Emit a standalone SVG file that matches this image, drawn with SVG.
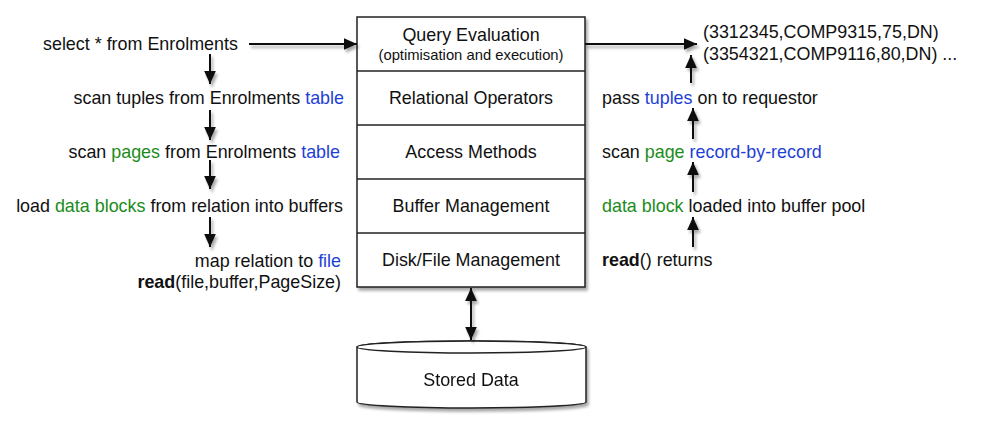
<svg xmlns="http://www.w3.org/2000/svg" width="981" height="426" viewBox="0 0 981 426">
<style>
text{font-family:"Liberation Sans",Arial,sans-serif;font-size:17.9px;fill:#111}
.c{text-anchor:middle}
.e{text-anchor:end}
.g{fill:#1b8c1b}
.b{fill:#1e3fd6}
.bold{font-weight:bold}
.box{fill:#fff;stroke:#222;stroke-width:1.5}
.conn{stroke:#111;stroke-width:2;fill:none}
</style>
<defs>
<filter id="sh" x="-10%" y="-10%" width="130%" height="130%">
<feGaussianBlur in="SourceAlpha" stdDeviation="1.8"/>
<feOffset dx="1.5" dy="2.5" result="o"/>
<feComponentTransfer><feFuncA type="linear" slope="0.35"/></feComponentTransfer>
<feMerge><feMergeNode/><feMergeNode in="SourceGraphic"/></feMerge>
</filter>
<marker id="ahb" viewBox="0 0 10 10" refX="10" refY="5" markerWidth="13" markerHeight="13" markerUnits="userSpaceOnUse" orient="auto-start-reverse">
<path d="M0,0.5 L10,5 L0,9.5 z" fill="#111"/>
</marker>
</defs>

<g id="stack" filter="url(#sh)">
<rect class="box" x="357" y="17" width="228" height="270"/>
</g>
<g id="query-evaluation">
<line x1="357" y1="71" x2="585" y2="71" stroke="#222" stroke-width="1.5"/>
<text class="c" x="471" y="41">Query Evaluation</text>
<text class="c" x="471" y="60" style="font-size:14.8px">(optimisation and execution)</text>
</g>
<g id="relational-operators">
<line x1="357" y1="125" x2="585" y2="125" stroke="#222" stroke-width="1.5"/>
<text class="c" x="471" y="104">Relational Operators</text>
</g>
<g id="access-methods">
<line x1="357" y1="179" x2="585" y2="179" stroke="#222" stroke-width="1.5"/>
<text class="c" x="471" y="158">Access Methods</text>
</g>
<g id="buffer-management">
<line x1="357" y1="233" x2="585" y2="233" stroke="#222" stroke-width="1.5"/>
<text class="c" x="471" y="212">Buffer Management</text>
</g>
<g id="disk-file-management">
<text class="c" x="471" y="266">Disk/File Management</text>
</g>

<g id="stored-data" filter="url(#sh)">
<path class="box" d="M357,347 L357,402 A114.5,6 0 0 0 586,402 L586,347 A114.5,6 0 0 0 357,347 z"/>
<ellipse class="box" cx="471.5" cy="347" rx="114.5" ry="6"/>
<text class="c" x="471" y="386">Stored Data</text>
</g>

<g id="left-labels">
<text x="43" y="50">select * from Enrolments</text>
<text class="e" x="344" y="104">scan tuples from Enrolments <tspan class="b">table</tspan></text>
<text class="e" x="340" y="158">scan <tspan class="g">pages</tspan> from Enrolments <tspan class="b">table</tspan></text>
<text class="e" x="343" y="212">load <tspan class="g">data blocks</tspan> from relation into buffers</text>
<text class="e" x="341" y="267">map relation to <tspan class="b">file</tspan></text>
<text class="e" x="341" y="288"><tspan class="bold">read</tspan>(file,buffer,PageSize)</text>
</g>

<g id="right-labels">
<text x="703" y="38">(3312345,COMP9315,75,DN)</text>
<text x="703" y="60">(3354321,COMP9116,80,DN) ...</text>
<text x="602" y="104">pass <tspan class="b">tuples</tspan> on to requestor</text>
<text x="602" y="158">scan <tspan class="g">page</tspan> <tspan class="b">record-by-record</tspan></text>
<text x="602" y="212"><tspan class="g">data block</tspan> loaded into buffer pool</text>
<text x="602" y="266"><tspan class="bold">read</tspan>() returns</text>
</g>

<g id="connectors" filter="url(#sh)">
<line class="conn" x1="249" y1="44" x2="357" y2="44" marker-end="url(#ahb)"/>
<line class="conn" x1="585" y1="44" x2="697" y2="44" marker-end="url(#ahb)"/>
<line class="conn" x1="210" y1="54" x2="210" y2="84" marker-end="url(#ahb)"/>
<line class="conn" x1="210" y1="110" x2="210" y2="140" marker-end="url(#ahb)"/>
<line class="conn" x1="210" y1="160" x2="210" y2="189" marker-end="url(#ahb)"/>
<line class="conn" x1="210" y1="217" x2="210" y2="247" marker-end="url(#ahb)"/>
<line class="conn" x1="691" y1="83" x2="691" y2="55" marker-end="url(#ahb)"/>
<line class="conn" x1="693" y1="139" x2="693" y2="108" marker-end="url(#ahb)"/>
<line class="conn" x1="693" y1="192" x2="693" y2="162" marker-end="url(#ahb)"/>
<line class="conn" x1="693" y1="247" x2="693" y2="217" marker-end="url(#ahb)"/>
<line class="conn" x1="471" y1="288" x2="471" y2="340" marker-start="url(#ahb)" marker-end="url(#ahb)"/>
</g>
</svg>
